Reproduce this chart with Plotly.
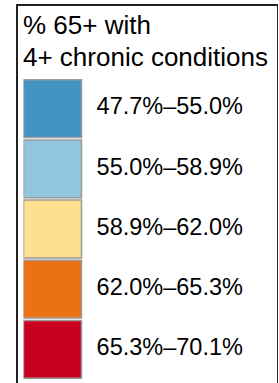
import plotly.graph_objects as go

legend_title_lines = ["% 65+ with", "4+ chronic conditions"]
class_labels = ["47.7%–55.0%", "55.0%–58.9%", "58.9%–62.0%", "62.0%–65.3%", "65.3%–70.1%"]
class_colors = ["#4393C3", "#92C5DE", "#FEE090", "#EC7014", "#CA0020"]
swatch_size = [1, 1, 1, 1, 1]

W, H = 279, 383
FONT = "Liberation Sans, Arial, sans-serif"

fig = go.Figure()
fig.add_trace(go.Bar(
    y=class_labels, x=swatch_size, orientation="h",
    marker=dict(color=class_colors, line=dict(color="#9a9a9a", width=1.5)),
    width=0.96, hoverinfo="skip", showlegend=False,
))
fig.add_trace(go.Scatter(
    y=class_labels, x=[1.26] * len(class_labels), mode="text",
    text=class_labels, textposition="middle right",
    textfont=dict(family=FONT, size=23.5, color="#000000"),
    cliponaxis=False, hoverinfo="skip", showlegend=False,
))

x0 = 23.5
fig.update_layout(
    width=W, height=H, margin=dict(l=0, r=0, t=0, b=0),
    paper_bgcolor="white", plot_bgcolor="white",
    xaxis=dict(domain=[x0 / W, 1], range=[0, (W - x0) / 58], visible=False, fixedrange=True),
    yaxis=dict(domain=[(H - 379.5) / H, (H - 78.5) / H], autorange="reversed",
               type="category", visible=False, fixedrange=True),
    bargap=0.04,
)

# legend title
for txt, yc in zip(legend_title_lines, [25.3, 57.2]):
    fig.add_annotation(text=txt, xref="paper", yref="paper", x=21 / W, y=1 - yc / H,
                       xanchor="left", yanchor="middle", showarrow=False,
                       font=dict(family=FONT, size=26, color="#000000"))

# legend frame
frame = "#222222"
fig.add_shape(type="line", xref="paper", yref="paper", x0=17 / W, x1=17 / W, y0=-0.05, y1=1 - 4 / H,
              line=dict(color=frame, width=2))
fig.add_shape(type="line", xref="paper", yref="paper", x0=16 / W, x1=278 / W, y0=1 - 5 / H, y1=1 - 5 / H,
              line=dict(color=frame, width=2))
fig.add_shape(type="line", xref="paper", yref="paper", x0=277.5 / W, x1=277.5 / W, y0=-0.05, y1=1 - 4 / H,
              line=dict(color=frame, width=1))

fig.write_html("out.html", config={"displayModeBar": False},
               post_script="document.body.style.margin='0';document.body.style.overflow='hidden';")
